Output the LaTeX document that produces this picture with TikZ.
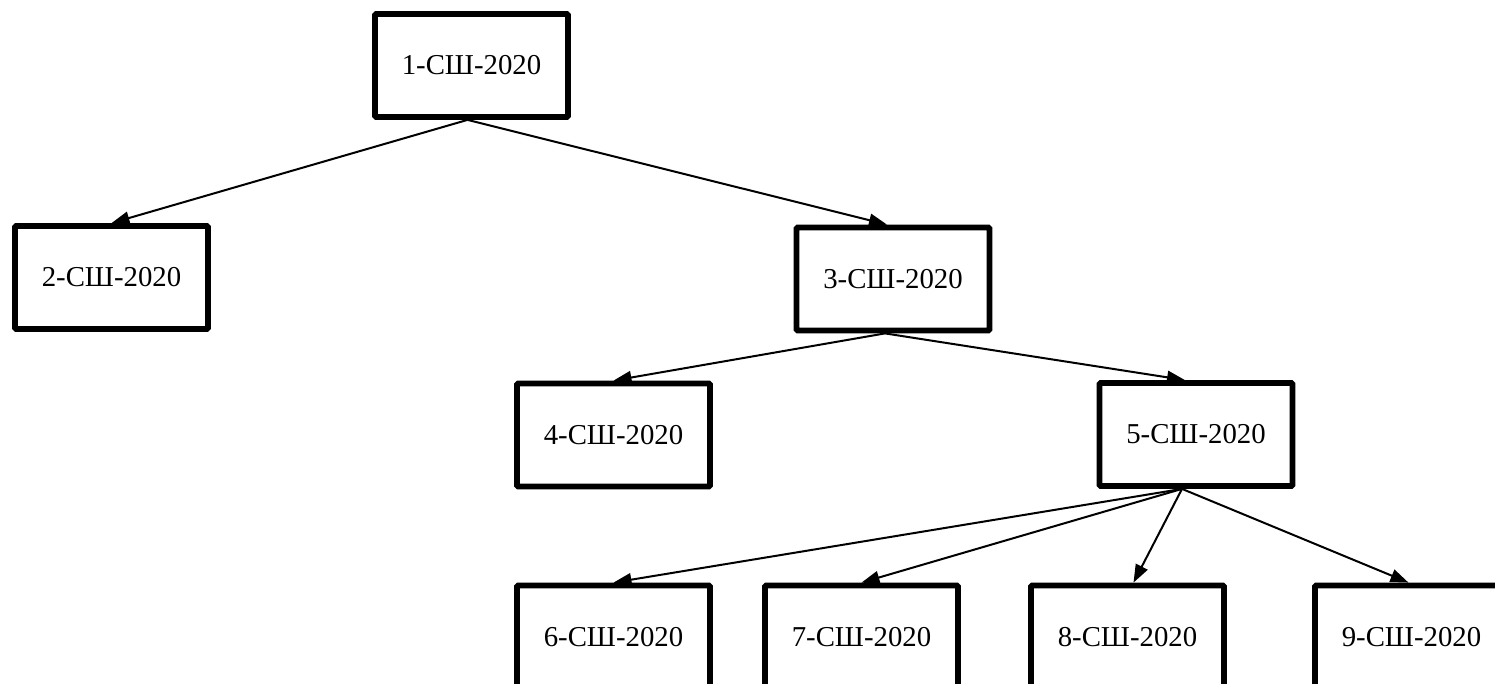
\documentclass[tikz,border=0pt]{standalone}
\usepackage{fontspec}
\setmainfont{Liberation Serif}
\usetikzlibrary{arrows.meta}
\begin{document}
\begin{tikzpicture}[x=0.5pt,y=-0.5pt,
  boxnode/.style={draw=black, line width=2.9pt, rounded corners=0.6pt, fill=white,
    minimum width=96.5pt, minimum height=51.5pt, inner sep=0pt,
    font=\fontsize{14.4}{16}\selectfont},
  link/.style={line width=1pt, -{Triangle[length=9pt,width=6.5pt]}}]
\useasboundingbox (0,0) rectangle (1495,684);
\clip (0,0) rectangle (1495,684);
\fill[white] (0,0) rectangle (1495,684);
\node[boxnode] (b1) at (471.5,65.5) {1-СШ-2020};
\node[boxnode] (b2) at (111.5,277.5) {2-СШ-2020};
\node[boxnode] (b3) at (893,279) {3-СШ-2020};
\node[boxnode] (b4) at (613.5,435) {4-СШ-2020};
\node[boxnode] (b5) at (1196,434.5) {5-СШ-2020};
\node[boxnode] (b6) at (613.5,637) {6-СШ-2020};
\node[boxnode] (b7) at (861.5,637) {7-СШ-2020};
\node[boxnode] (b8) at (1127.5,637) {8-СШ-2020};
\node[boxnode] (b9) at (1411.5,637) {9-СШ-2020};
\coordinate (o1) at ([xshift=-2pt]b1.south);
\coordinate (o3) at ([xshift=-4pt]b3.south);
\coordinate (o5) at ([xshift=-7pt]b5.south);
\draw[link] (o1) -- (b2.north);
\draw[link] (o1) -- ([xshift=-3pt]b3.north);
\draw[link] (o3) -- (b4.north);
\draw[link] (o3) -- ([xshift=-5.5pt]b5.north);
\draw[link] (o5) -- (b6.north);
\draw[link] (o5) -- (b7.north);
\draw[link] (o5) -- ([xshift=3pt]b8.north);
\draw[link] (o5) -- ([xshift=-1.5pt]b9.north);
\end{tikzpicture}
\end{document}
